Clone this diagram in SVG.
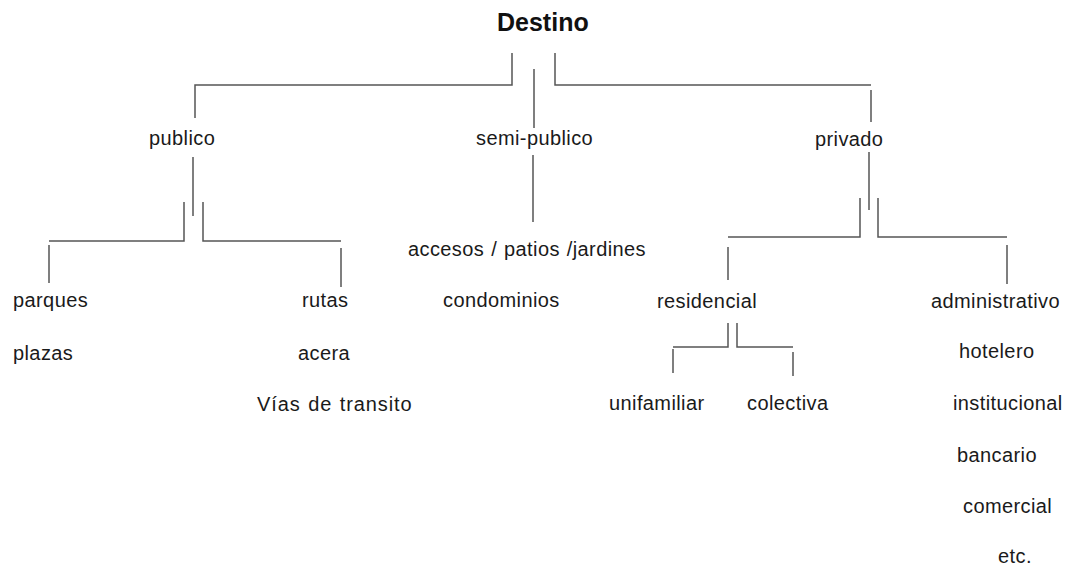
<svg xmlns="http://www.w3.org/2000/svg" width="1073" height="567" viewBox="0 0 1073 567">
<style>
.t{font-family:"Liberation Sans",Arial,sans-serif;font-size:20px;letter-spacing:0.4px;word-spacing:1px;fill:#1a1a1a}
.h{font-family:"Liberation Sans",Arial,sans-serif;font-size:25px;font-weight:bold;fill:#111}
.c{fill:none;stroke:#555;stroke-width:1.5}
</style>
<rect width="1073" height="567" fill="#fff"/>
<g id="connectors">
<path class="c" d="M512 53V85H195V118"/>
<path class="c" d="M534 69V128"/>
<path class="c" d="M555 53V85H871"/>
<path class="c" d="M871 90V122"/>
<path class="c" d="M193 157V216"/>
<path class="c" d="M184 202V241H49"/>
<path class="c" d="M49 245V283"/>
<path class="c" d="M203 202V241H341"/>
<path class="c" d="M341 248V287"/>
<path class="c" d="M533 155V222"/>
<path class="c" d="M869 152V210"/>
<path class="c" d="M860 198V237H728"/>
<path class="c" d="M728 247V280"/>
<path class="c" d="M878 198V237H1007"/>
<path class="c" d="M1007 245V284"/>
<path class="c" d="M728 323V347H673"/>
<path class="c" d="M673 349V373"/>
<path class="c" d="M737 323V347H793"/>
<path class="c" d="M793 352V376"/>
</g>
<g id="destino"><text class="h" x="497" y="31">Destino</text></g>
<g id="publico"><text class="t" x="149" y="145">publico</text></g>
<g id="semi-publico"><text class="t" x="476" y="145">semi-publico</text></g>
<g id="privado"><text class="t" x="815" y="146">privado</text></g>
<g id="parques"><text class="t" x="13" y="307">parques</text></g>
<g id="plazas"><text class="t" x="13" y="360">plazas</text></g>
<g id="rutas"><text class="t" x="302" y="307">rutas</text></g>
<g id="acera"><text class="t" x="298" y="360">acera</text></g>
<g id="vias"><text class="t" x="257" y="411" textLength="155">Vías de transito</text></g>
<g id="accesos"><text class="t" x="408" y="256">accesos / patios /jardines</text></g>
<g id="condominios"><text class="t" x="443" y="307">condominios</text></g>
<g id="residencial"><text class="t" x="657" y="308">residencial</text></g>
<g id="unifamiliar"><text class="t" x="609" y="410">unifamiliar</text></g>
<g id="colectiva"><text class="t" x="747" y="410">colectiva</text></g>
<g id="administrativo"><text class="t" x="931" y="308">administrativo</text></g>
<g id="hotelero"><text class="t" x="959" y="358">hotelero</text></g>
<g id="institucional"><text class="t" x="953" y="410">institucional</text></g>
<g id="bancario"><text class="t" x="957" y="462">bancario</text></g>
<g id="comercial"><text class="t" x="963" y="513">comercial</text></g>
<g id="etc"><text class="t" x="998" y="563">etc.</text></g>
</svg>
